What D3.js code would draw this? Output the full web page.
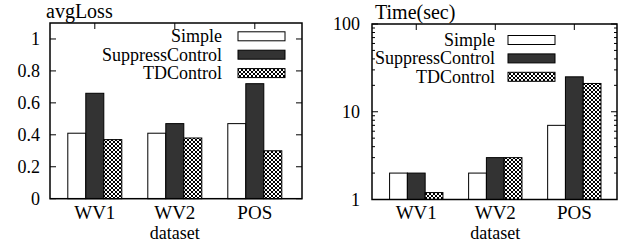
<!DOCTYPE html>
<html><head><meta charset="utf-8">
<script src="https://cdn.jsdelivr.net/npm/d3@7"></script>
<style>
body{margin:0;background:#fff;}
svg{display:block;}
</style></head>
<body>
<svg id="c" width="621" height="243" font-family="'Liberation Serif', 'DejaVu Serif', serif"></svg>
<script>
const categories = ["WV1", "WV2", "POS"];
const seriesNames = ["Simple", "SuppressControl", "TDControl"];
const simpleLoss = [0.41, 0.41, 0.47];
const suppressLoss = [0.66, 0.47, 0.72];
const tdLoss = [0.37, 0.38, 0.30];
const simpleTime = [2, 2, 7];
const suppressTime = [2, 3, 25];
const tdTime = [1.2, 3, 21];
const lossTicks = [0, 0.2, 0.4, 0.6, 0.8, 1];
const lossTickLabels = ["0", "0.2", "0.4", "0.6", "0.8", "1"];
const timeTicks = [1, 10, 100];
const timeTickLabels = ["1", "10", "100"];
const xLabel = "dataset";

const svg = d3.select("#c");
const defs = svg.append("defs");
const pat = defs.append("pattern").attr("id", "xhatch").attr("patternUnits", "userSpaceOnUse")
  .attr("width", 4).attr("height", 4);
pat.append("rect").attr("width", 4).attr("height", 4).attr("fill", "#fff");
pat.append("path").attr("d", "M0,0L4,4M4,0L0,4M-1,3L1,5M3,-1L5,1M-1,1L1,-1M3,5L5,3")
  .attr("stroke", "#000").attr("stroke-width", 1);

const fills = ["#ffffff", "#333333", "url(#xhatch)"];
const FS = 18;
const FONT = "Liberation Serif";

function txt(g, x, y, s, size, anchor) {
  return g.append("text").attr("x", x).attr("y", y).attr("text-anchor", anchor || "start")
    .attr("font-family", FONT).attr("font-size", size).attr("fill", "#000").text(s);
}

function panel(cfg) {
  const g = svg.append("g");
  const x = d3.scaleLinear().domain(cfg.xdom).range([cfg.left, cfg.right]);
  const y = cfg.y;
  const bw = 0.225;
  cfg.ticks.forEach((t, i) => {
    g.append("line").attr("x1", cfg.left).attr("x2", cfg.left + 6).attr("y1", y(t)).attr("y2", y(t)).attr("stroke", "#000");
    g.append("line").attr("x1", cfg.right).attr("x2", cfg.right - 6).attr("y1", y(t)).attr("y2", y(t)).attr("stroke", "#000");
    txt(g, cfg.labelX, y(t) + 6, cfg.tickLabels[i], FS, "end");
  });
  if (cfg.minor) {
    cfg.minor.forEach(t => {
      g.append("line").attr("x1", cfg.left).attr("x2", cfg.left + 3).attr("y1", y(t)).attr("y2", y(t)).attr("stroke", "#000");
      g.append("line").attr("x1", cfg.right).attr("x2", cfg.right - 3).attr("y1", y(t)).attr("y2", y(t)).attr("stroke", "#000");
    });
  }
  categories.forEach((c, i) => {
    g.append("line").attr("x1", x(i)).attr("x2", x(i)).attr("y1", cfg.top).attr("y2", cfg.top + 6).attr("stroke", "#000");
    txt(g, x(i), 219, c, 19, "middle");
  });
  cfg.data.forEach((vals, j) => {
    vals.forEach((v, i) => {
      const x0 = x(i + (j - 1.5) * bw), x1 = x(i + (j - 0.5) * bw);
      g.append("rect").attr("x", x0).attr("y", y(v)).attr("width", x1 - x0)
        .attr("height", cfg.bottom - y(v)).attr("fill", fills[j]).attr("stroke", "#000").attr("stroke-width", 1);
    });
  });
  g.append("rect").attr("x", cfg.left).attr("y", cfg.top).attr("width", cfg.right - cfg.left)
    .attr("height", cfg.bottom - cfg.top).attr("fill", "none").attr("stroke", "#000").attr("stroke-width", 1.5);
  seriesNames.forEach((s, j) => {
    const cy = cfg.legY + j * 18.4;
    txt(g, cfg.legTextX, cy + 6, s, FS, "end");
    g.append("rect").attr("x", cfg.legBoxX).attr("y", cy - 4.5).attr("width", 47).attr("height", 9)
      .attr("fill", fills[j]).attr("stroke", "#000").attr("stroke-width", 1);
  });
  txt(g, cfg.titleX, cfg.titleY, cfg.title, 20);
  txt(g, x(1), 239, xLabel, 18, "middle");
}

panel({
  left: 50, right: 302, top: 23, bottom: 198.7, xdom: [-0.56, 2.59],
  y: d3.scaleLinear().domain([0, 1.1]).range([198.7, 23]),
  ticks: lossTicks, tickLabels: lossTickLabels, labelX: 40,
  data: [simpleLoss, suppressLoss, tdLoss],
  legY: 36.3, legTextX: 222, legBoxX: 238,
  title: "avgLoss", titleX: 46, titleY: 18
});

const minorTicks = [2,3,4,5,6,7,8,9,20,30,40,50,60,70,80,90];
panel({
  left: 372, right: 617, top: 24, bottom: 199.5, xdom: [-0.56, 2.54],
  y: d3.scaleLog().domain([1, 100]).range([199.5, 24]), log: true, minor: minorTicks,
  ticks: timeTicks, tickLabels: timeTickLabels, labelX: 360,
  data: [simpleTime, suppressTime, tdTime],
  legY: 40, legTextX: 495, legBoxX: 508,
  title: "Time(sec)", titleX: 375, titleY: 19
});
</script>
</body></html>
